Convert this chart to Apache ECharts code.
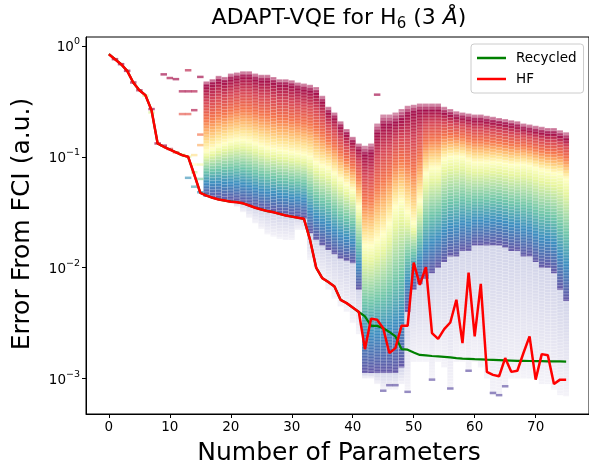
<!DOCTYPE html>
<html>
<head>
<meta charset="utf-8">
<title>ADAPT-VQE for H6</title>
<script src="https://cdn.jsdelivr.net/npm/echarts@6.0.0/dist/echarts.min.js"></script>
<style>
  html, body { margin: 0; padding: 0; background: #fff; }
  #main { width: 589px; height: 466px; }
</style>
</head>
<body>
<div id="main"></div>
<script>
// all energies are stored as log10(error)
const hfLog10 = [
  -0.075, -0.12, -0.165, -0.225, -0.33, -0.40, -0.445, -0.58, -0.88, -0.91,
  -0.935, -0.96, -0.985, -1.0, -1.16, -1.325, -1.35, -1.37, -1.385, -1.395,
  -1.405, -1.41, -1.42, -1.44, -1.46, -1.475, -1.49, -1.50, -1.515, -1.53,
  -1.54, -1.55, -1.56, -1.75, -2.0, -2.095, -2.13, -2.17, -2.29, -2.32,
  -2.36, -2.40, -2.735, -2.46, -2.47, -2.546, -2.77, -2.726, -2.525, -2.525,
  -1.955, -2.156, -1.996, -2.59, -2.642, -2.555, -2.495, -2.29, -2.68, -2.045,
  -2.62, -2.147, -2.94, -2.967, -2.98, -2.816, -2.94, -2.93, -2.77, -2.62,
  -3.01, -2.78, -2.79, -3.05, -3.01, -3.01
];
const recycledLog10 = [
  -0.075, -0.12, -0.165, -0.225, -0.33, -0.40, -0.445, -0.58, -0.88, -0.91,
  -0.935, -0.96, -0.985, -1.0, -1.16, -1.325, -1.35, -1.37, -1.385, -1.395,
  -1.405, -1.41, -1.42, -1.44, -1.46, -1.475, -1.49, -1.50, -1.515, -1.53,
  -1.54, -1.55, -1.56, -1.75, -2.0, -2.095, -2.13, -2.17, -2.29, -2.32,
  -2.36, -2.40, -2.44, -2.525, -2.525, -2.546, -2.58, -2.62, -2.735, -2.74,
  -2.765, -2.787, -2.792, -2.797, -2.80, -2.805, -2.81, -2.816, -2.82, -2.822,
  -2.825, -2.827, -2.83, -2.832, -2.834, -2.836, -2.838, -2.84, -2.841, -2.842,
  -2.843, -2.844, -2.845, -2.846, -2.846, -2.847
];

// operator-pool cloud, one column per parameter count
const cloudX = [16,17,18,19,20,21,22,23,24,25,26,27,28,29,30,31,32,33,34,35,36,37,38,39,40,41,42,43,44,45,
  46,47,48,49,50,51,52,53,54,55,56,57,58,59,60,61,62,63,64,65,66,67,68,69,70,71,72,73,74,75];
const cloudTop = [-0.32,-0.30,-0.27,-0.28,-0.25,-0.24,-0.23,-0.23,-0.25,-0.26,-0.26,-0.28,-0.30,-0.30,-0.31,
  -0.33,-0.34,-0.35,-0.37,-0.45,-0.55,-0.60,-0.68,-0.75,-0.82,-0.88,-0.90,-0.88,-0.70,-0.62,
  -0.62,-0.60,-0.57,-0.54,-0.53,-0.52,-0.52,-0.52,-0.52,-0.55,-0.57,-0.59,-0.60,-0.61,-0.62,
  -0.62,-0.63,-0.64,-0.65,-0.66,-0.67,-0.68,-0.70,-0.71,-0.72,-0.73,-0.74,-0.74,-0.76,-0.78];
const cloudMid = [-0.95,-0.93,-0.90,-0.88,-0.86,-0.85,-0.85,-0.86,-0.88,-0.90,-0.92,-0.93,-0.94,-0.95,-0.96,
  -0.97,-0.98,-1.00,-1.05,-1.08,-1.10,-1.15,-1.20,-1.25,-1.30,-1.45,-1.80,-1.80,-1.75,-1.70,
  -1.60,-1.45,-1.40,-1.50,-1.60,-1.40,-1.15,-1.10,-1.10,-1.02,-1.00,-1.00,-1.00,-1.03,-1.05,
  -1.05,-1.05,-1.05,-1.05,-1.06,-1.07,-1.07,-1.07,-1.08,-1.10,-1.12,-1.13,-1.15,-1.15,-1.20];
const cloudBot = [-1.36,-1.37,-1.38,-1.39,-1.40,-1.41,-1.42,-1.44,-1.46,-1.475,-1.49,-1.50,-1.515,-1.53,-1.54,
  -1.55,-1.56,-1.69,-1.75,-1.80,-1.84,-1.88,-1.92,-1.94,-1.96,-2.20,-2.95,-2.95,-2.95,-2.95,
  -2.95,-2.95,-2.90,-2.40,-2.20,-2.15,-2.10,-2.05,-2.00,-1.95,-1.90,-1.90,-1.85,-1.85,-1.80,
  -1.80,-1.80,-1.80,-1.80,-1.82,-1.85,-1.85,-1.90,-1.90,-1.95,-2.00,-2.00,-2.05,-2.20,-2.30];
const cloudTail = [-1.36,-1.37,-1.38,-1.40,-1.42,-1.45,-1.50,-1.55,-1.60,-1.65,-1.70,-1.72,-1.74,-1.75,-1.75,
  -1.66,-1.66,-1.93,-2.00,-2.10,-2.20,-2.28,-2.35,-2.40,-2.50,-2.60,-3.00,-3.00,-3.05,-3.10,
  -3.10,-3.10,-3.05,-3.10,-2.85,-2.85,-2.85,-3.00,-2.85,-2.90,-3.10,-2.85,-2.85,-2.93,-2.85,
  -2.90,-3.00,-3.15,-3.15,-3.07,-3.00,-3.00,-3.00,-3.00,-3.00,-3.05,-3.05,-3.10,-3.15,-3.16];

// isolated operator dashes: [parameters, log10 error, rank in pool 0..1]
const looseDashes = [
  [1,-0.12,0.0],[2,-0.165,0.0],[3,-0.225,0.0],[4,-0.33,0.02],[5,-0.40,0.02],[6,-0.45,0.6],
  [7,-0.57,0.0],[7,-0.60,0.62],[8,-0.88,0.0],[9,-0.90,0.0],[9,-0.257,0.0],[10,-0.29,0.02],
  [10,-0.93,0.1],[11,-0.30,0.0],[11,-0.96,0.2],[12,-0.41,0.02],[12,-0.615,0.15],[12,-0.98,0.45],
  [13,-0.22,0.05],[13,-0.41,0.02],[13,-0.615,0.15],[13,-1.0,0.6],[13,-1.19,0.88],
  [14,-0.41,0.03],[14,-0.58,0.03],[14,-0.985,0.4],[14,-1.07,0.5],[14,-1.14,0.65],[14,-1.27,0.85],
  [15,-0.28,0.0],[15,-0.80,0.2],[15,-0.895,0.3],[15,-1.07,0.55],[15,-1.20,0.75],[15,-1.32,0.9],
  [44,-0.44,0.0],[45,-3.11,1],[46,-3.06,1],[47,-3.06,1],[49,-3.12,1],[53,-3.01,1],
  [56,-3.09,1],[59,-2.93,1],[63,-3.13,1],[64,-3.15,1],[65,-3.07,1]
];

const xTicks = [0, 10, 20, 30, 40, 50, 60, 70];
const yTicks = [-3, -2, -1, 0];

const SPECTRAL = ['#9e0142','#d53e4f','#f46d43','#fdae61','#fee08b','#ffffbf',
                  '#e6f598','#abdda4','#66c2a5','#3288bd','#5e4fa2'];
// where each colour sits inside the upper (top..mid) and lower (mid..bottom) halves
const UPPER_POS = [0, 0.3, 0.55, 0.72, 0.87, 1];
const LOWER_POS = [0, 0.12, 0.28, 0.45, 0.7, 1];
const FONT = 'DejaVu Sans';

function rgba(hex, a) {
  const n = parseInt(hex.slice(1), 16);
  return 'rgba(' + (n >> 16 & 255) + ',' + (n >> 8 & 255) + ',' + (n & 255) + ',' + a + ')';
}

function stripes(x0, y0, w, y1, step) {
  const out = [];
  for (let y = y0 + step - 0.5; y < y1; y += step) {
    out.push({
      type: 'line', silent: true,
      shape: { x1: x0, y1: y, x2: x0 + w, y2: y },
      style: { stroke: 'rgba(255,255,255,0.32)', lineWidth: 1 }
    });
  }
  return out;
}

function renderColumn(params, api) {
  const x = api.value(0);
  const top = api.coord([x, api.value(1)]);
  const mid = api.coord([x, api.value(2)]);
  const bot = api.coord([x, api.value(3)]);
  const tail = api.coord([x, api.value(4)]);
  const w = api.size([0.95, 0])[0];
  const x0 = top[0] - w / 2;
  const h = bot[1] - top[1];
  const m = Math.min(0.92, Math.max(0.08, (mid[1] - top[1]) / h));
  const stops = [{ offset: 0, color: rgba(SPECTRAL[0], 0.4) }];
  SPECTRAL.forEach((c, i) => {
    const t = i <= 5 ? UPPER_POS[i] * m : m + LOWER_POS[i - 5] * (1 - m);
    stops.push({ offset: i === 0 ? 0.04 : t, color: rgba(c, 0.95) });
  });
  const tailH = Math.max(0, tail[1] - bot[1]);
  return {
    type: 'group',
    children: [
      {
        type: 'rect',
        shape: { x: x0, y: bot[1], width: w, height: tailH },
        style: {
          fill: { type: 'linear', x: 0, y: 0, x2: 0, y2: 1, colorStops: [
            { offset: 0, color: 'rgba(80,90,170,0.26)' },
            { offset: 1, color: 'rgba(94,79,162,0.07)' }
          ] }
        }
      },
      {
        type: 'rect',
        shape: { x: x0, y: top[1], width: w, height: h },
        style: { fill: { type: 'linear', x: 0, y: 0, x2: 0, y2: 1, colorStops: stops } }
      }
    ].concat(stripes(x0, top[1], w, tail[1], 3))
  };
}

const cloudData = cloudX.map((x, i) => [x, cloudTop[i], cloudMid[i], cloudBot[i], cloudTail[i]]);
const hfData = hfLog10.map((v, i) => [i, v]);
const recycledData = recycledLog10.map((v, i) => [i, v]);

const chart = echarts.init(document.getElementById('main'), null, { renderer: 'canvas' });

chart.setOption({
  animation: false,
  backgroundColor: '#fff',
  textStyle: { fontFamily: FONT },
  grid: { left: 86, right: -3, top: 37, bottom: 52, show: true, borderColor: '#000', borderWidth: 1 },
  xAxis: {
    type: 'value', min: -3.75, max: 78.75,
    axisLine: { show: true, onZero: false, lineStyle: { color: '#000', width: 1 } },
    axisTick: { show: true, length: 4, customValues: xTicks, lineStyle: { color: '#000' } },
    axisLabel: { customValues: xTicks, color: '#000', fontSize: 13.5, fontFamily: FONT, margin: 6 },
    splitLine: { show: false }
  },
  yAxis: {
    type: 'value', min: -3.32, max: 0.08,
    axisLine: { show: true, onZero: false, lineStyle: { color: '#000', width: 1 } },
    axisTick: { show: true, length: 4, customValues: yTicks, lineStyle: { color: '#000' } },
    axisLabel: {
      customValues: yTicks, color: '#000', margin: 6,
      formatter: v => '{b|10}{e|' + (v === 0 ? '0' : '\u2212' + (-v)) + '}',
      rich: {
        b: { fontSize: 13.5, fontFamily: FONT, color: '#000', lineHeight: 18, verticalAlign: 'bottom' },
        e: { fontSize: 9.5, fontFamily: FONT, color: '#000', lineHeight: 10, verticalAlign: 'top' }
      }
    },
    splitLine: { show: false }
  },
  legend: {
    data: ['Recycled', 'HF'],
    orient: 'vertical', left: 471, top: 44,
    icon: 'rect', itemWidth: 29, itemHeight: 2.5, itemGap: 7,
    padding: [7, 7, 7, 6],
    backgroundColor: 'rgba(255,255,255,0.85)', borderColor: '#ccc', borderWidth: 1, borderRadius: 3,
    textStyle: { fontSize: 13.5, fontFamily: FONT, color: '#000', padding: [0, 0, 0, 5] }
  },
  visualMap: {
    show: false, seriesIndex: 1, dimension: 2, min: 0, max: 1,
    inRange: { color: SPECTRAL }
  },
  series: [
    {
      type: 'custom', name: 'pool', renderItem: renderColumn, data: cloudData,
      encode: { x: 0, y: [1, 3, 4] }, z: 1, silent: true
    },
    {
      type: 'scatter', name: 'loose', data: looseDashes, symbol: 'rect', symbolSize: [6.5, 2.5],
      itemStyle: { opacity: 0.65 }, z: 2, silent: true
    },
    {
      type: 'line', name: 'Recycled', data: recycledData, showSymbol: false,
      lineStyle: { color: '#008000', width: 2.2 }, itemStyle: { color: '#008000' }, z: 3
    },
    {
      type: 'line', name: 'HF', data: hfData, showSymbol: false,
      lineStyle: { color: '#ff0000', width: 2.5 }, itemStyle: { color: '#ff0000' }, z: 4
    }
  ],
  graphic: [
    {
      type: 'text', x: 339, y: 16,
      style: {
        text: '{a|ADAPT-VQE for H}{s|6}{a| (3 }{i|\u00c5}{a|)}',
        textAlign: 'center', textVerticalAlign: 'middle',
        rich: {
          a: { fontSize: 22, fontFamily: FONT, fill: '#000', lineHeight: 26, verticalAlign: 'bottom' },
          s: { fontSize: 15, fontFamily: FONT, fill: '#000', lineHeight: 15, verticalAlign: 'bottom', padding: [0, 0, -3, 0] },
          i: { fontSize: 22, fontFamily: FONT, fontStyle: 'italic', fill: '#000', lineHeight: 26, verticalAlign: 'bottom' }
        }
      }
    },
    {
      type: 'text', x: 22, y: 224, rotation: Math.PI / 2,
      style: { text: 'Error From FCI (a.u.)', fontSize: 25, fontFamily: FONT, fill: '#000',
               textAlign: 'center', textVerticalAlign: 'middle' }
    },
    {
      type: 'text', x: 339, y: 453,
      style: { text: 'Number of Parameters', fontSize: 25, fontFamily: FONT, fill: '#000',
               textAlign: 'center', textVerticalAlign: 'middle' }
    }
  ]
});
</script>
</body>
</html>
